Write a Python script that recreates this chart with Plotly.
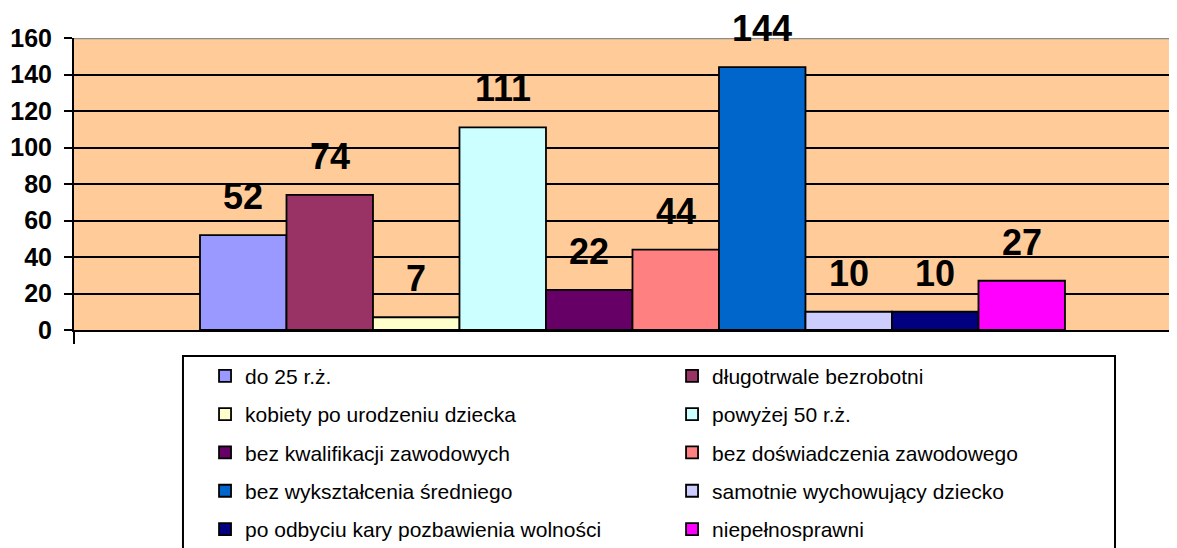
import plotly.graph_objects as go

categories = ["do 25 r.ż.", "długotrwale bezrobotni", "kobiety po urodzeniu dziecka",
              "powyżej 50 r.ż.", "bez kwalifikacji zawodowych", "bez doświadczenia zawodowego",
              "bez wykształcenia średniego", "samotnie wychowujący dziecko",
              "po odbyciu kary pozbawienia wolności", "niepełnosprawni"]
values = [52, 74, 7, 111, 22, 44, 144, 10, 10, 27]
colors = ["#9999FF", "#993366", "#FFFFCC", "#CCFFFF", "#660066", "#FF8080",
          "#0066CC", "#CCCCFF", "#000080", "#FF00FF"]
y_ticks = [0, 20, 40, 60, 80, 100, 120, 140, 160]

FONT = "Liberation Sans, Arial, sans-serif"
BARGAP = 0.2256
X_RANGE = [-0.5, 0.4875]

fig = go.Figure()
for i, (name, v, c) in enumerate(zip(categories, values, colors)):
    fig.add_trace(go.Bar(
        x=[" "], y=[v], name=name,
        marker=dict(color=c, line=dict(color="black", width=1.8)),
        legend="legend" if i % 2 == 0 else "legend2",
        legendgroup=f"g{i}",
        hoverinfo="skip",
    ))

n = len(values)
group_w = 1 - BARGAP
bar_w = group_w / n
annotations = []
for i, v in enumerate(values):
    cx = -group_w / 2 + (i + 0.5) * bar_w
    annotations.append(dict(
        x=cx, y=v, xref="x", yref="y", text=f"<b>{v}</b>", showarrow=False,
        yanchor="bottom", yshift=16,
        font=dict(family=FONT, size=36, color="black"),
    ))

legend_common = dict(
    orientation="v", yanchor="top", xanchor="left",
    bgcolor="rgba(0,0,0,0)", borderwidth=0,
    font=dict(family=FONT, size=21, color="black"),
    traceorder="grouped", tracegroupgap=8,
)

fig.update_layout(
    width=1169, height=540,
    margin=dict(l=66, r=0, t=30, b=218, autoexpand=False),
    paper_bgcolor="white", plot_bgcolor="#FFCC99",
    barmode="group", bargap=BARGAP, bargroupgap=0,
    showlegend=True,
    legend=dict(x=0.1188, y=-0.088, **legend_common),
    legend2=dict(x=0.5422, y=-0.088, **legend_common),
    annotations=annotations,
    shapes=[
        dict(type="line", xref="paper", yref="y", x0=0, x1=1, y0=160, y1=160,
             line=dict(color="#8C8C8C", width=2.5), layer="above"),
        dict(type="rect", xref="paper", yref="paper", x0=0.0988, x1=0.9438,
             y0=-0.089, y1=-0.80, fillcolor="white",
             line=dict(color="black", width=2), layer="above"),
    ],
)
fig.update_xaxes(
    type="category", range=X_RANGE, showticklabels=False,
    showline=True, linecolor="black", linewidth=2,
    ticks="outside", tickson="boundaries", ticklen=12, tickcolor="black", tickwidth=2,
    showgrid=False, zeroline=False,
)
fig.update_yaxes(
    range=[0, 160], tickvals=y_ticks, showline=True, linecolor="black", linewidth=2,
    ticks="outside", ticklen=8, tickcolor="black", tickwidth=2,
    showgrid=True, gridcolor="black", gridwidth=1.5, zeroline=False,
    tickfont=dict(family=FONT, size=25, color="black", weight="bold"),
    ticklabelstandoff=7,
)

fig.write_html("out.html")
